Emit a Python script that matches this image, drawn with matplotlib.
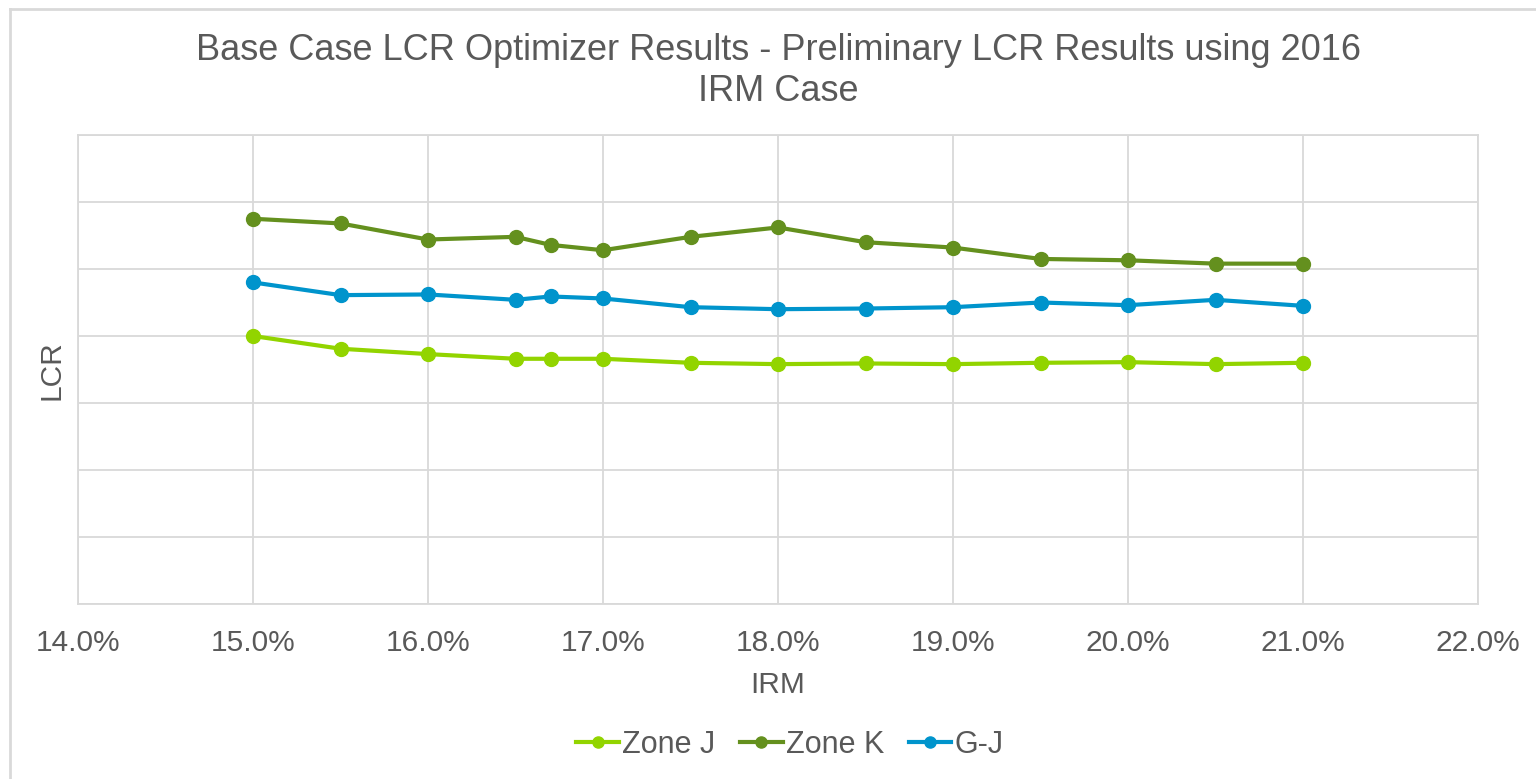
import matplotlib
matplotlib.use("Agg")
import matplotlib.pyplot as plt
from matplotlib.lines import Line2D
from matplotlib.ticker import FuncFormatter, MultipleLocator

# IRM values (fraction) and LCR values (relative units, no y labels in the source)
irm = [0.150, 0.155, 0.160, 0.165, 0.167, 0.170, 0.175, 0.180,
       0.185, 0.190, 0.195, 0.200, 0.205, 0.210]
zone_j = [4.00, 3.81, 3.73, 3.66, 3.66, 3.66, 3.60, 3.58,
          3.59, 3.58, 3.60, 3.61, 3.58, 3.60]
zone_k = [5.75, 5.68, 5.44, 5.48, 5.36, 5.28, 5.48, 5.62,
          5.40, 5.32, 5.15, 5.13, 5.08, 5.08]
g_j = [4.80, 4.61, 4.62, 4.54, 4.59, 4.56, 4.43, 4.40,
       4.41, 4.43, 4.50, 4.46, 4.54, 4.45]

series = [("Zone J", zone_j, "#92D400"),
          ("Zone K", zone_k, "#64901E"),
          ("G-J", g_j, "#0094CC")]

text_color = "#595959"
grid_color = "#D9D9D9"
plt.rcParams["font.family"] = ["Liberation Sans", "DejaVu Sans"]

fig = plt.figure(figsize=(15.36, 7.79), dpi=100)
ax = fig.add_axes([78 / 1536, 1 - 604 / 779, 1400 / 1536, 469 / 779])

for name, vals, col in series:
    ax.plot(irm, vals, color=col, lw=3, marker="o", ms=10, label=name)

ax.set_xlim(0.14, 0.22)
ax.set_ylim(0, 7)
ax.xaxis.set_major_locator(MultipleLocator(0.01))
ax.xaxis.set_major_formatter(FuncFormatter(lambda v, p: f"{v * 100:.1f}%"))
ax.yaxis.set_major_locator(MultipleLocator(1))
ax.set_yticklabels([])
ax.tick_params(axis="both", length=0, labelsize=21.5, colors=text_color, pad=18)
ax.grid(True, color=grid_color, lw=1.3)
for s in ax.spines.values():
    s.set_color(grid_color)
    s.set_linewidth(1.3)
ax.set_axisbelow(True)

ax.set_xlabel("IRM", fontsize=21.5, color=text_color, labelpad=10)
fig.text(52 / 1536, 1 - 370 / 779, "LCR", rotation=90, fontsize=21.5,
         color=text_color, ha="center", va="center")

fig.suptitle("Base Case LCR Optimizer Results - Preliminary LCR Results using 2016\nIRM Case",
             fontsize=26, color=text_color, x=778 / 1536, y=1 - 33 / 779, va="top",
             linespacing=1.24)

fig.legend(loc="center", bbox_to_anchor=(790 / 1536, 1 - 745 / 779), ncol=3,
           frameon=False, fontsize=22, labelcolor=text_color, handlelength=1.4,
           handletextpad=0.1, columnspacing=0.8, markerscale=0.8)

# chart area border (only top and left are visible in the source)
fig.add_artist(Line2D([10 / 1536, 10 / 1536], [0, 1 - 9 / 779],
                      transform=fig.transFigure, color=grid_color, lw=2))
fig.add_artist(Line2D([10 / 1536, 1], [1 - 9 / 779, 1 - 9 / 779],
                      transform=fig.transFigure, color=grid_color, lw=2))

fig.savefig("out.png", dpi=100, facecolor="white")
